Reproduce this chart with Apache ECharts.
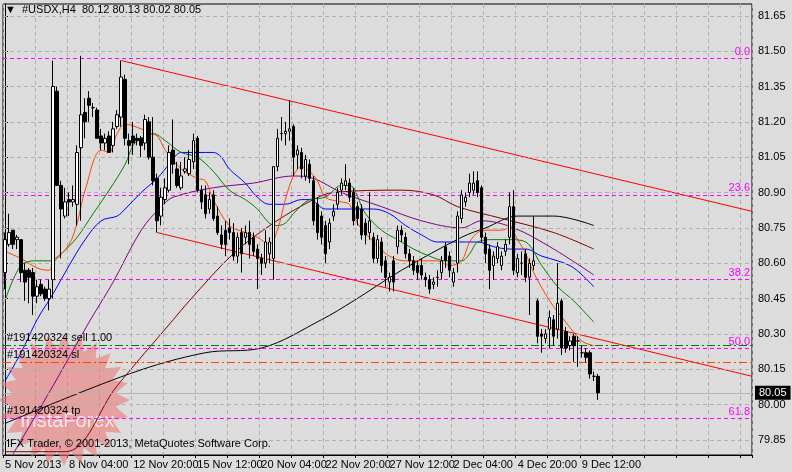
<!doctype html>
<html>
<head>
<meta charset="UTF-8">
<title>#USDX,H4</title>
<script src="https://cdn.jsdelivr.net/npm/echarts@6/dist/echarts.min.js"></script>
<style>
    html, body { margin: 0; padding: 0; background: #dcdcdc; }
    #main { width: 792px; height: 472px; }
</style>
</head>
<body>
<div id="main"></div>
<script>
    // candles: [open, close, low, high]
    var candles = [
        [80.56,80.70,80.49,80.73],[80.68,80.73,80.67,80.81],[80.74,80.68,80.66,80.74],[80.70,80.71,80.66,80.72],
        [80.70,80.56,80.52,80.70],[80.57,80.52,80.44,80.60],[80.57,80.54,80.43,80.58],[80.56,80.46,80.38,80.58],
        [80.46,80.50,80.43,80.53],[80.51,80.47,80.46,80.53],[80.49,80.45,80.44,80.50],[80.45,80.49,80.40,80.53],
        [80.53,81.35,80.45,81.46],[81.33,80.93,80.93,81.35],[80.93,80.83,80.62,80.95],[80.80,80.86,80.79,80.92],
        [80.87,80.86,80.80,80.90],[80.86,80.87,80.84,80.93],[80.85,81.07,80.76,81.10],[81.09,81.23,80.78,81.48],
        [81.24,81.20,81.13,81.30],[81.30,81.27,81.20,81.33],[81.26,81.26,81.22,81.28],[81.25,81.13,81.13,81.26],
        [81.14,81.11,81.08,81.17],[81.11,81.13,81.08,81.15],[81.14,81.07,81.07,81.16],[81.10,81.17,81.07,81.20],
        [81.18,81.23,81.17,81.25],[81.22,81.39,81.18,81.46],[81.38,81.13,81.10,81.40],[81.12,81.10,81.02,81.15],
        [81.14,81.11,81.06,81.20],[81.13,81.12,81.10,81.15],[81.13,81.10,81.05,81.14],[81.11,81.21,81.08,81.23],
        [81.20,81.05,81.04,81.22],[81.05,80.95,80.93,81.22],[80.96,80.78,80.73,80.98],[80.80,80.88,80.76,80.92],
        [80.87,80.92,80.85,80.96],[80.91,81.07,80.90,81.10],[81.08,81.02,80.98,81.21],[81.00,80.93,80.92,81.03],
        [80.92,80.97,80.91,81.03],[80.99,81.00,80.98,81.05],[80.98,81.04,80.97,81.08],[81.03,81.12,81.00,81.15],
        [81.13,80.91,80.90,81.14],[80.91,80.86,80.83,80.93],[80.89,80.81,80.79,80.93],[80.83,80.87,80.81,80.90],
        [80.89,80.79,80.78,80.91],[80.80,80.73,80.72,80.84],[80.72,80.68,80.66,80.76],[80.74,80.68,80.63,80.78],
        [80.75,80.73,80.70,80.79],[80.73,80.63,80.61,80.77],[80.63,80.71,80.60,80.73],[80.73,80.64,80.56,80.75],
        [80.71,80.73,80.68,80.76],[80.73,80.68,80.62,80.78],[80.71,80.65,80.63,80.73],[80.66,80.62,80.49,80.68],
        [80.62,80.60,80.55,80.64],[80.60,80.69,80.58,80.74],[80.64,80.69,80.60,80.71],[80.62,81.01,80.53,81.01],
        [81.01,81.13,80.99,81.17],[81.15,81.15,81.12,81.22],[81.15,81.16,81.10,81.20],[81.16,81.17,81.12,81.29],
        [81.18,81.05,80.97,81.19],[81.06,81.08,81.00,81.10],[81.07,81.00,80.96,81.09],[80.97,81.04,80.95,81.06],
        [81.02,80.96,80.94,81.04],[80.95,80.78,80.76,80.97],[80.85,80.73,80.70,80.88],[80.80,80.71,80.68,80.82],
        [80.76,80.64,80.60,80.78],[80.69,80.77,80.66,80.79],[80.80,80.82,80.78,80.85],[80.85,80.90,80.83,80.92],
        [80.91,80.94,80.89,80.96],[80.93,80.95,80.91,81.02],[80.94,80.88,80.86,80.96],[80.90,80.78,80.76,80.92],
        [80.84,80.79,80.76,80.86],[80.83,80.72,80.70,80.85],[80.77,80.72,80.68,80.79],[80.73,80.78,80.70,80.90],
        [80.71,80.62,80.60,80.73],[80.62,80.70,80.60,80.72],[80.69,80.59,80.56,80.71],[80.61,80.54,80.50,80.63],
        [80.52,80.54,80.48,80.56],[80.61,80.52,80.48,80.63],[80.67,80.74,80.64,80.76],[80.74,80.72,80.69,80.76],
        [80.71,80.64,80.62,80.73],[80.64,80.61,80.58,80.66],[80.61,80.57,80.55,80.63],[80.59,80.56,80.53,80.61],
        [80.59,80.55,80.53,80.62],[80.54,80.53,80.50,80.56],[80.53,80.49,80.47,80.55],[80.51,80.52,80.49,80.54],
        [80.54,80.54,80.50,80.57],[80.56,80.61,80.53,80.63],[80.67,80.61,80.58,80.69],[80.63,80.57,80.54,80.65],
        [80.52,80.56,80.50,80.58],[80.60,80.80,80.56,80.82],[80.79,80.89,80.77,80.91],[80.86,80.88,80.84,80.90],
        [80.90,80.94,80.88,80.98],[80.91,80.94,80.89,80.99],[80.95,80.90,80.88,80.99],[80.92,80.71,80.69,80.93],
        [80.71,80.64,80.60,80.73],[80.66,80.57,80.49,80.68],[80.59,80.63,80.53,80.65],[80.62,80.67,80.60,80.69],
        [80.59,80.63,80.57,80.65],[80.65,80.68,80.63,80.70],[80.71,80.84,80.68,80.90],[80.84,80.57,80.55,80.91],
        [80.56,80.62,80.54,80.64],[80.60,80.60,80.55,80.65],[80.64,80.54,80.52,80.66],[80.54,80.60,80.38,80.62],
        [80.59,80.61,80.57,80.80],[80.44,80.29,80.26,80.45],[80.30,80.29,80.22,80.32],[80.28,80.30,80.26,80.32],
        [80.32,80.37,80.24,80.40],[80.36,80.29,80.25,80.38],[80.32,80.43,80.28,80.60],[80.44,80.24,80.21,80.45],
        [80.31,80.24,80.22,80.33],[80.25,80.27,80.23,80.29],[80.29,80.25,80.18,80.30],[80.27,80.27,80.16,80.29],
        [80.22,80.22,80.20,80.25],[80.22,80.20,80.18,80.24],[80.22,80.13,80.11,80.23],[80.12,80.12,80.10,80.14],
        [80.12,80.05,80.02,80.13]
    ];

    // moving averages: [bar index, value]
    var maOrange = [[0,80.65],[4,80.62],[8,80.58],[11,80.57],[12,80.60],[16,80.68],[18,80.77],[20,80.91],[24,81.08],[26,81.07],[28,81.15],[30,81.19],[34,81.17],[36,81.15],[38,81.14],[40,81.08],[44,81.00],[48,80.96],[50,80.95],[52,80.87],[56,80.76],[60,80.73],[63,80.71],[66,80.68],[68,80.74],[70,80.87],[72,80.97],[74,81.01],[76,80.99],[78,80.95],[80,80.88],[84,80.86],[86,80.85],[88,80.77],[92,80.69],[96,80.63],[100,80.61],[104,80.61],[108,80.61],[111,80.59],[114,80.61],[116,80.69],[118,80.73],[120,80.74],[124,80.74],[126,80.75],[128,80.70],[130,80.64],[132,80.56],[136,80.44],[140,80.35],[144,80.27],[147,80.25]];
    var maGreen = [[0,80.44],[4,80.59],[8,80.61],[11,80.61],[14,80.64],[18,80.71],[22,80.81],[26,80.91],[30,81.02],[32,81.10],[34,81.13],[37,81.15],[40,81.12],[44,81.07],[48,81.05],[52,80.99],[56,80.91],[60,80.87],[63,80.83],[66,80.77],[68,80.76],[70,80.77],[72,80.81],[76,80.87],[80,80.88],[84,80.93],[86,80.93],[90,80.81],[94,80.74],[98,80.70],[102,80.66],[106,80.63],[110,80.61],[114,80.61],[116,80.64],[118,80.69],[122,80.70],[126,80.70],[130,80.69],[134,80.59],[138,80.50],[142,80.44],[147,80.35]];
    var maBlue = [[0,80.10],[4,80.22],[8,80.36],[12,80.47],[16,80.59],[20,80.70],[24,80.78],[28,80.80],[30,80.83],[34,80.90],[38,80.96],[41,81.02],[44,81.07],[48,81.07],[52,81.07],[54,81.05],[56,81.00],[60,80.94],[63,80.88],[66,80.85],[70,80.85],[74,80.87],[76,80.87],[80,80.83],[84,80.83],[88,80.83],[92,80.83],[96,80.81],[100,80.76],[104,80.72],[108,80.69],[112,80.69],[118,80.69],[122,80.67],[126,80.66],[130,80.66],[134,80.63],[138,80.61],[142,80.58],[147,80.50]];
    var maPurple = [[2,79.79],[12,80.08],[21,80.35],[27,80.52],[34,80.74],[39,80.84],[42,80.88],[52,80.92],[62,80.94],[72,80.97],[77,80.96],[84,80.90],[94,80.84],[104,80.78],[114,80.75],[119,80.78],[127,80.75],[137,80.66],[147,80.55]];
    var maBrown = [[0,79.80],[15,79.80],[28,80.08],[42,80.36],[46,80.44],[57,80.64],[67,80.77],[77,80.87],[82,80.90],[99,80.91],[107,80.89],[113,80.84],[124,80.79],[137,80.73],[147,80.66]];
    var maBlack = [[0,79.92],[31,80.13],[50,80.22],[64,80.24],[79,80.36],[87,80.44],[99,80.57],[114,80.71],[120,80.75],[128,80.80],[137,80.80],[147,80.76]];

    var channelTop = [[29,81.46],[186.5,80.82]];
    var channelLow = [[38,80.73],[186.5,80.12]];

    var fibLevels = [81.475, 80.89, 80.53, 80.24, 79.94];
    var fibNames = ['0.0', '23.6', '38.2', '50.0', '61.8'];
    var sellPrice = 80.25, slPrice = 80.18, lastPrice = 80.05;

    var priceTicks = [79.85,80.00,80.15,80.30,80.45,80.60,80.75,80.90,81.05,81.20,81.35,81.50,81.65];
    var dateLabels = ['5 Nov 2013','8 Nov 04:00','12 Nov 20:00','15 Nov 12:00','20 Nov 04:00','22 Nov 20:00','27 Nov 12:00','2 Dec 04:00','4 Dec 20:00','9 Dec 12:00'];

    var FONT = 'Liberation Sans';
    var slots = 187;
    var cats = [];
    for (var i = 0; i < slots; i++) cats.push(String(i));
    var kData = candles.map(function (c) { return [c[0], c[1], c[2], c[3]]; });

    function maLine(data, color) {
        return {type: 'line', xAxisIndex: 1, data: data, smooth: 0.35, symbol: 'none', silent: true,
            lineStyle: {color: color, width: 1}, z: 3};
    }

    // horizontal price grid
    var gridLines = priceTicks.map(function (v) {
        return {yAxis: v, lineStyle: {color: '#b0b0b0', type: [4, 3], width: 1}, label: {show: false}};
    });
    var fibLines = fibLevels.map(function (v, k) {
        return {yAxis: v, lineStyle: {color: '#ff00ff', type: [4, 3], width: 1},
            label: {show: true, position: 'insideEndTop', formatter: fibNames[k], color: '#ff00ff', fontSize: 11, fontFamily: FONT, distance: [2, 1]}};
    });
    var tradeLines = [
        {yAxis: sellPrice, lineStyle: {color: '#008000', type: [8, 3, 2, 3], width: 1},
            label: {show: true, position: 'insideStartTop', formatter: '#191420324 sell 1.00', color: '#000', fontSize: 11, fontFamily: FONT, distance: [4, 2]}},
        {yAxis: slPrice, lineStyle: {color: '#ff4500', type: [8, 3, 2, 3], width: 1},
            label: {show: true, position: 'insideStartTop', formatter: '#191420324 sl', color: '#000', fontSize: 11, fontFamily: FONT, distance: [4, 2]}},
        {yAxis: fibLevels[4], lineStyle: {color: 'rgba(0,0,0,0)', width: 1},
            label: {show: true, position: 'insideStartTop', formatter: '#191420324 tp', color: '#000', fontSize: 11, fontFamily: FONT, distance: [4, 2]}},
        {yAxis: lastPrice, lineStyle: {color: '#b4b4b4', type: 'solid', width: 1},
            label: {show: true, position: 'end', formatter: '80.05', color: '#fff', backgroundColor: '#000', fontSize: 11, fontFamily: FONT, padding: [2, 4, 1, 4], distance: 3}}
    ];

    // InstaForex badge
    var star = [];
    for (var s = 0; s < 48; s++) {
        var r = s % 2 ? 52 : 66, a = Math.PI * s / 24;
        star.push([64 + r * Math.cos(a), 400 + r * Math.sin(a)]);
    }

    var chart = echarts.init(document.getElementById('main'));
    chart.setOption({
        animation: false,
        backgroundColor: '#dcdcdc',
        textStyle: {fontFamily: FONT},
        grid: {left: 3, right: 40, top: 4, bottom: 17, show: true, borderColor: '#000', borderWidth: 1, backgroundColor: '#dcdcdc'},
        xAxis: [{
            type: 'category', data: cats, boundaryGap: true,
            axisLine: {lineStyle: {color: '#000'}},
            axisTick: {show: true, interval: 7, length: 3, lineStyle: {color: '#000'}},
            splitLine: {show: true, interval: 7, lineStyle: {color: '#b0b0b0', type: [4, 3]}},
            axisLabel: {interval: 15, color: '#000', fontSize: 11, fontFamily: FONT, margin: 4, align: 'left',
                formatter: function (v, idx) { return dateLabels[idx / 16] || ''; }}
        }, {
            type: 'value', min: -0.5, max: 186.5, show: false
        }],
        yAxis: {
            type: 'value', position: 'right', min: 79.786, max: 81.70, scale: true,
            axisLine: {show: true, lineStyle: {color: '#000'}},
            axisTick: {show: true, length: 3, customValues: priceTicks, lineStyle: {color: '#000'}},
            splitLine: {show: false},
            axisLabel: {color: '#000', fontSize: 11, fontFamily: FONT, margin: 6, customValues: priceTicks,
                formatter: function (v) { return v.toFixed(2); }}
        },
        graphic: [
            {type: 'polygon', shape: {points: star}, style: {fill: 'rgba(235,120,120,0.6)'}, z: 1, silent: true},
            {type: 'text', left: 20, top: 411, style: {text: 'InstaForex', fill: 'rgba(255,255,255,0.75)', font: '20px "Liberation Sans"'}, z: 2, silent: true},
            {type: 'text', left: 5, top: 4, style: {text: '\u25BC  #USDX,H4  80.12 80.13 80.02 80.05', fill: '#000', font: '11px "Liberation Sans"'}, z: 20},
            {type: 'text', left: 7, top: 438, style: {text: 'IFX Trader, \u00A9 2001-2013, MetaQuotes Software Corp.', fill: '#000', font: '11px "Liberation Sans"'}, z: 20}
        ],
        series: [
            {type: 'line', xAxisIndex: 1, data: [], z: 1, markLine: {silent: true, symbol: 'none', data: gridLines}},
            {type: 'line', xAxisIndex: 1, data: [], markLine: {silent: true, symbol: 'none', data: fibLines}},
            maLine(maBlack, '#000000'),
            maLine(maBrown, '#800000'),
            maLine(maPurple, '#800080'),
            maLine(maBlue, '#0000ff'),
            maLine(maGreen, '#008000'),
            maLine(maOrange, '#ff4500'),
            {type: 'line', xAxisIndex: 1, data: channelTop, symbol: 'none', lineStyle: {color: '#ff0000', width: 1}, z: 4},
            {type: 'line', xAxisIndex: 1, data: channelLow, symbol: 'none', lineStyle: {color: '#ff0000', width: 1}, z: 4},
            {
                type: 'candlestick', data: kData, barWidth: 3, z: 5,
                itemStyle: {color: '#ffffff', color0: '#000000', borderColor: '#000000', borderColor0: '#000000', borderWidth: 1},
                markLine: {silent: true, symbol: 'none', data: tradeLines}
            }
        ]
    });
</script>
</body>
</html>
